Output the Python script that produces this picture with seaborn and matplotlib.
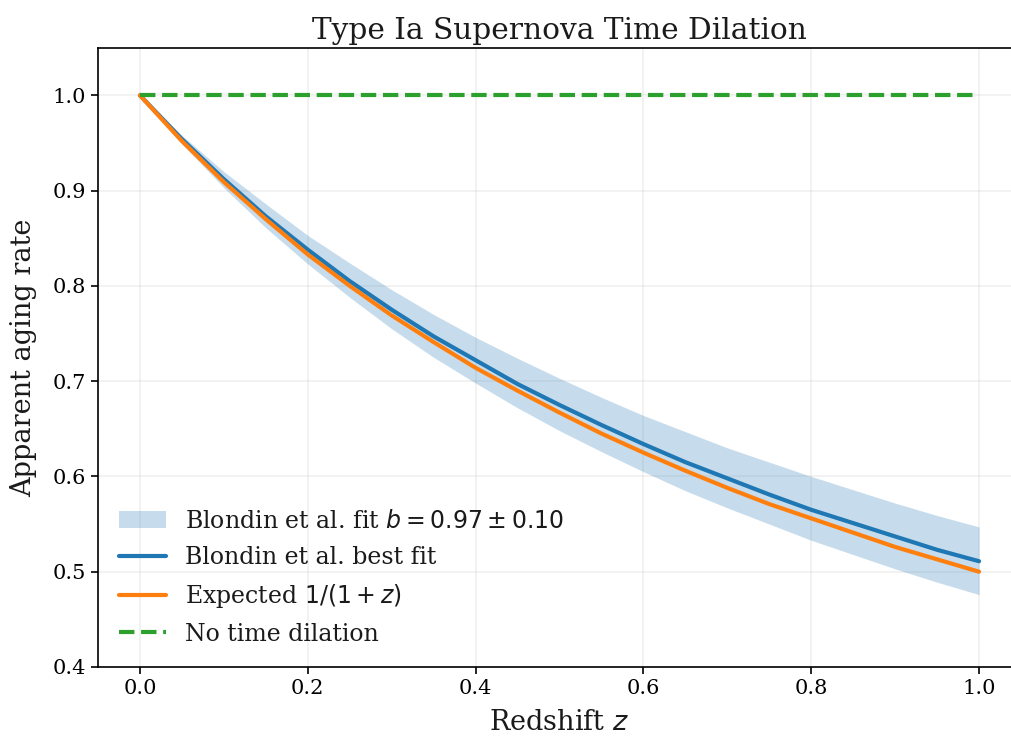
import numpy as np
import pandas as pd
import matplotlib
matplotlib.use("Agg")
import matplotlib.pyplot as plt
import seaborn as sns

# values at z steps of 0.05
z = [0.00, 0.05, 0.10, 0.15, 0.20, 0.25, 0.30, 0.35, 0.40, 0.45, 0.50,
     0.55, 0.60, 0.65, 0.70, 0.75, 0.80, 0.85, 0.90, 0.95, 1.00]
best_fit = [1.000, 0.954, 0.912, 0.873, 0.838, 0.805, 0.775, 0.747, 0.722, 0.697, 0.675,
            0.654, 0.634, 0.615, 0.598, 0.581, 0.565, 0.551, 0.537, 0.523, 0.511]
band_upper = [1.000, 0.958, 0.920, 0.886, 0.853, 0.824, 0.796, 0.770, 0.746, 0.724, 0.703,
              0.683, 0.664, 0.647, 0.630, 0.615, 0.600, 0.586, 0.572, 0.559, 0.547]
band_lower = [1.000, 0.949, 0.903, 0.861, 0.823, 0.788, 0.755, 0.725, 0.698, 0.672, 0.648,
              0.626, 0.605, 0.585, 0.567, 0.550, 0.533, 0.518, 0.503, 0.489, 0.476]
expected = [1.000, 0.952, 0.909, 0.870, 0.833, 0.800, 0.769, 0.741, 0.714, 0.690, 0.667,
            0.645, 0.625, 0.606, 0.588, 0.571, 0.556, 0.541, 0.526, 0.513, 0.500]
no_dilation = [1.0] * len(z)

df = pd.DataFrame({"z": z, "best": best_fit, "expected": expected, "none": no_dilation})

blue, orange, green = "#1f77b4", "#ff7f0e", "#2ca02c"

sns.set_theme(style="ticks", rc={
    "axes.linewidth": 1.2,
    "xtick.major.width": 1.2, "ytick.major.width": 1.2,
    "xtick.major.size": 5.25, "ytick.major.size": 5.25,
    "xtick.labelsize": 15, "ytick.labelsize": 15,
    "axes.edgecolor": "black",
    "xtick.color": "black", "ytick.color": "black",
    "text.color": "#1a1a1a", "axes.labelcolor": "#1a1a1a",
})
plt.rcParams["font.family"] = ["DejaVu Serif"]
plt.rcParams["mathtext.fontset"] = "dejavusans"

fig = plt.figure(figsize=(10.11, 7.36), dpi=100)
# the reference is cut at the right, past the last tick
ax = fig.add_axes([0.0969, 0.09375, 0.913, 0.8415])

ax.fill_between(z, band_lower, band_upper, color=blue, alpha=0.25, linewidth=0,
                label=r"Blondin et al. fit $b = 0.97 \pm 0.10$")
sns.lineplot(data=df, x="z", y="best", ax=ax, color=blue, linewidth=3,
             label="Blondin et al. best fit")
sns.lineplot(data=df, x="z", y="expected", ax=ax, color=orange, linewidth=3,
             label=r"Expected $1/(1+z)$")
sns.lineplot(data=df, x="z", y="none", ax=ax, color=green, linewidth=3,
             linestyle="--", label="No time dilation")

ax.set_xlim(-0.05, 1.05)
ax.set_ylim(0.4, 1.05)
ax.set_xticks([0.0, 0.2, 0.4, 0.6, 0.8, 1.0])
ax.set_yticks([0.4, 0.5, 0.6, 0.7, 0.8, 0.9, 1.0])
ax.spines["right"].set_visible(False)
ax.grid(True, alpha=0.3, linewidth=1.2)
ax.set_xlabel(r"Redshift $z$", fontsize=19.5, labelpad=8)
ax.set_ylabel("Apparent aging rate", fontsize=19.5, labelpad=11)
ax.set_title("Type Ia Supernova Time Dilation", fontsize=21.3)
ax.legend(loc="lower left", frameon=False, fontsize=17, labelspacing=0.55)

fig.savefig("out.png", dpi=100)
